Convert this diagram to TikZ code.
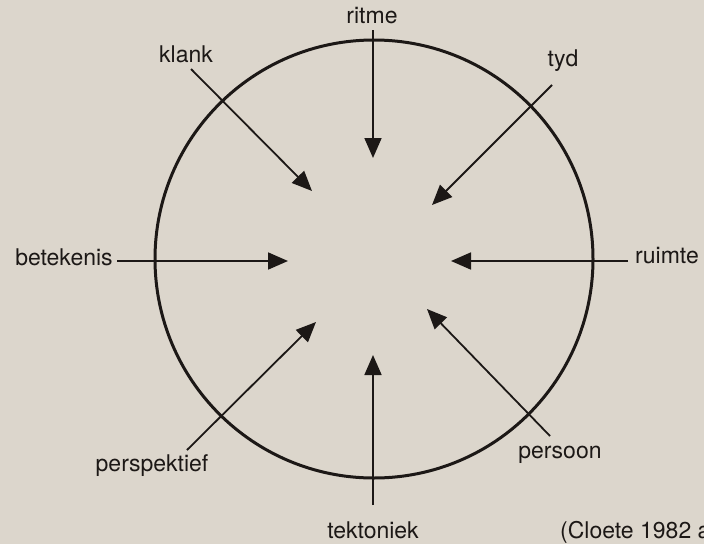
\documentclass[tikz,border=0pt]{standalone}
\usepackage{fontspec}
\setmainfont{TeX Gyre Heros}
\usetikzlibrary{arrows.meta}
\definecolor{Papier}{RGB}{220,214,204}
\definecolor{Inkt}{RGB}{28,24,22}

\begin{document}
\begin{tikzpicture}[x=1pt, y=-1pt,
	etiket/.style={inner sep=0pt, text=Inkt, font=\fontsize{23}{26}\selectfont,
		text height=17pt, text depth=5pt},
	pijl/.style={-{Triangle[length=20pt, width=17pt]}, line width=1.8pt, Inkt}]
	% agtergrond en raam
	\fill[Papier] (0,0) rectangle (704,544);
	\useasboundingbox (0,0) rectangle (704,544);
	\draw[Inkt, line width=3pt] (374,259) circle[radius=219];
	% etikette
	\node[etiket] (ritme) at (372,17) {ritme};
	\node[etiket] (klank) at (186,56) {klank};
	\node[etiket] (tyd) at (563,60) {tyd};
	\node[etiket] (betekenis) at (64,259) {betekenis};
	\node[etiket] (ruimte) at (667,257) {ruimte};
	\node[etiket] (perspektief) at (152,465) {perspektief};
	\node[etiket] (persoon) at (560,452) {persoon};
	\node[etiket] (tektoniek) at (373,532) {tektoniek};
	\node[etiket, anchor=west] (bron) at (560,532) {(Cloete 1982 a};
	% begin- en eindpunte van pyle
	\coordinate (a1) at (373,30);  \coordinate (b1) at (373,158);
	\coordinate (a2) at (191,69);  \coordinate (b2) at (312,191);
	\coordinate (a3) at (552,85);  \coordinate (b3) at (432,205);
	\coordinate (a4) at (117,261); \coordinate (b4) at (288,261);
	\coordinate (a5) at (628,261); \coordinate (b5) at (451,261);
	\coordinate (a6) at (187,450); \coordinate (b6) at (316,322);
	\coordinate (a7) at (373,505); \coordinate (b7) at (373,355);
	\coordinate (a8) at (550,436); \coordinate (b8) at (427,309);
	\foreach \i in {1,...,8}
		\draw[pijl] (a\i) -- (b\i);
\end{tikzpicture}
\end{document}
